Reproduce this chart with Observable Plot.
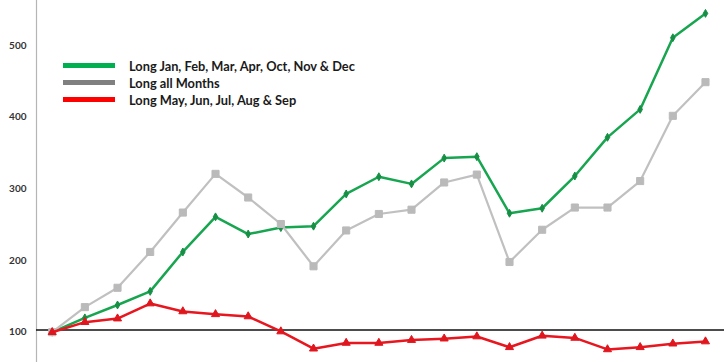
<!DOCTYPE html>
<html>
<head>
<meta charset="utf-8">
<script src="https://cdn.jsdelivr.net/npm/d3@7"></script>
<script src="https://cdn.jsdelivr.net/npm/@observablehq/plot@0.6"></script>
<style>
  html, body { margin: 0; padding: 0; background: #fff; }
  #wrap { position: relative; width: 724px; height: 362px; }
  #legend { position: absolute; left: 63px; top: 57px; font-family: Lato, "Open Sans", sans-serif; font-weight: bold; font-size: 12.8px; color: #1a1a1a; }
  .row { display: flex; align-items: center; height: 17px; }
  .sw { width: 52px; height: 5px; margin-right: 14px; }
</style>
</head>
<body>
<div id="wrap"><div id="legend"></div></div>
<script>
const periods = d3.range(21);
const longSelected = [100, 120, 138, 157, 212, 261, 237, 246, 248, 293, 317, 307, 343, 345, 266, 273, 318, 372, 411, 511, 545];
const longAll      = [100, 135, 162, 212, 267, 321, 288, 251, 192, 242, 265, 271, 309, 320, 198, 243, 274, 274, 311, 402, 449];
const longSummer   = [100, 114, 119, 140, 129, 125, 122, 101, 77, 85, 85, 89, 91, 94, 79, 95, 92, 76, 79, 84, 87];
const seriesNames = ["Long Jan, Feb, Mar, Apr, Oct, Nov & Dec", "Long all Months", "Long May, Jun, Jul, Aug & Sep"];
const yTicks = [100, 200, 300, 400, 500];
const baseline = [103];

const lineColors = ["#17a550", "#c0c0c0", "#e8161e"];
const markerColors = ["#168f45", "#bababa", "#e0161e"];
const legendColors = ["#00b050", "#808080", "#ff0000"];
const lineWidths = [2.5, 2.2, 2.5];
const symbols = ["diamond", "square", "triangle"];
const radii = [2.4, 4, 3];
const seriesValues = [longSelected, longAll, longSummer];

const tables = seriesValues.map((vals, i) => periods.map(p => ({x: p, y: vals[p], s: seriesNames[i]})));

const marks = [
  Plot.frame({anchor: "left", stroke: "#b5b5b5", strokeWidth: 1.2}),
  Plot.axisY({ticks: yTicks, tickSize: 0, tickPadding: 10, fontSize: 10, fontWeight: "bold", fill: "#333", fontFamily: "Lato, sans-serif", label: null}),
  Plot.ruleY(baseline, {stroke: "#111", strokeWidth: 1.5})
];
[0, 1, 2].forEach(i => {
  marks.push(Plot.line(tables[i], {x: "x", y: "y", stroke: lineColors[i], strokeWidth: lineWidths[i]}));
  marks.push(Plot.dot(tables[i], {x: "x", y: "y", symbol: () => symbols[i], r: radii[i], fill: markerColors[i], stroke: markerColors[i], strokeWidth: 1}));
});

const chart = Plot.plot({
  width: 724,
  height: 362,
  marginLeft: 36,
  marginRight: 0,
  marginTop: 0,
  marginBottom: 0,
  x: {domain: [-0.4806, 20.582], axis: null},
  y: {domain: [57.7, 563], axis: null},
  style: {background: "#fff", overflow: "visible"},
  marks
});
document.getElementById("wrap").prepend(chart);

const legend = document.getElementById("legend");
seriesNames.forEach((name, i) => {
  const row = document.createElement("div");
  row.className = "row";
  const sw = document.createElement("div");
  sw.className = "sw";
  sw.style.background = legendColors[i];
  const t = document.createElement("span");
  t.textContent = name;
  row.append(sw, t);
  legend.append(row);
});
</script>
</body>
</html>
